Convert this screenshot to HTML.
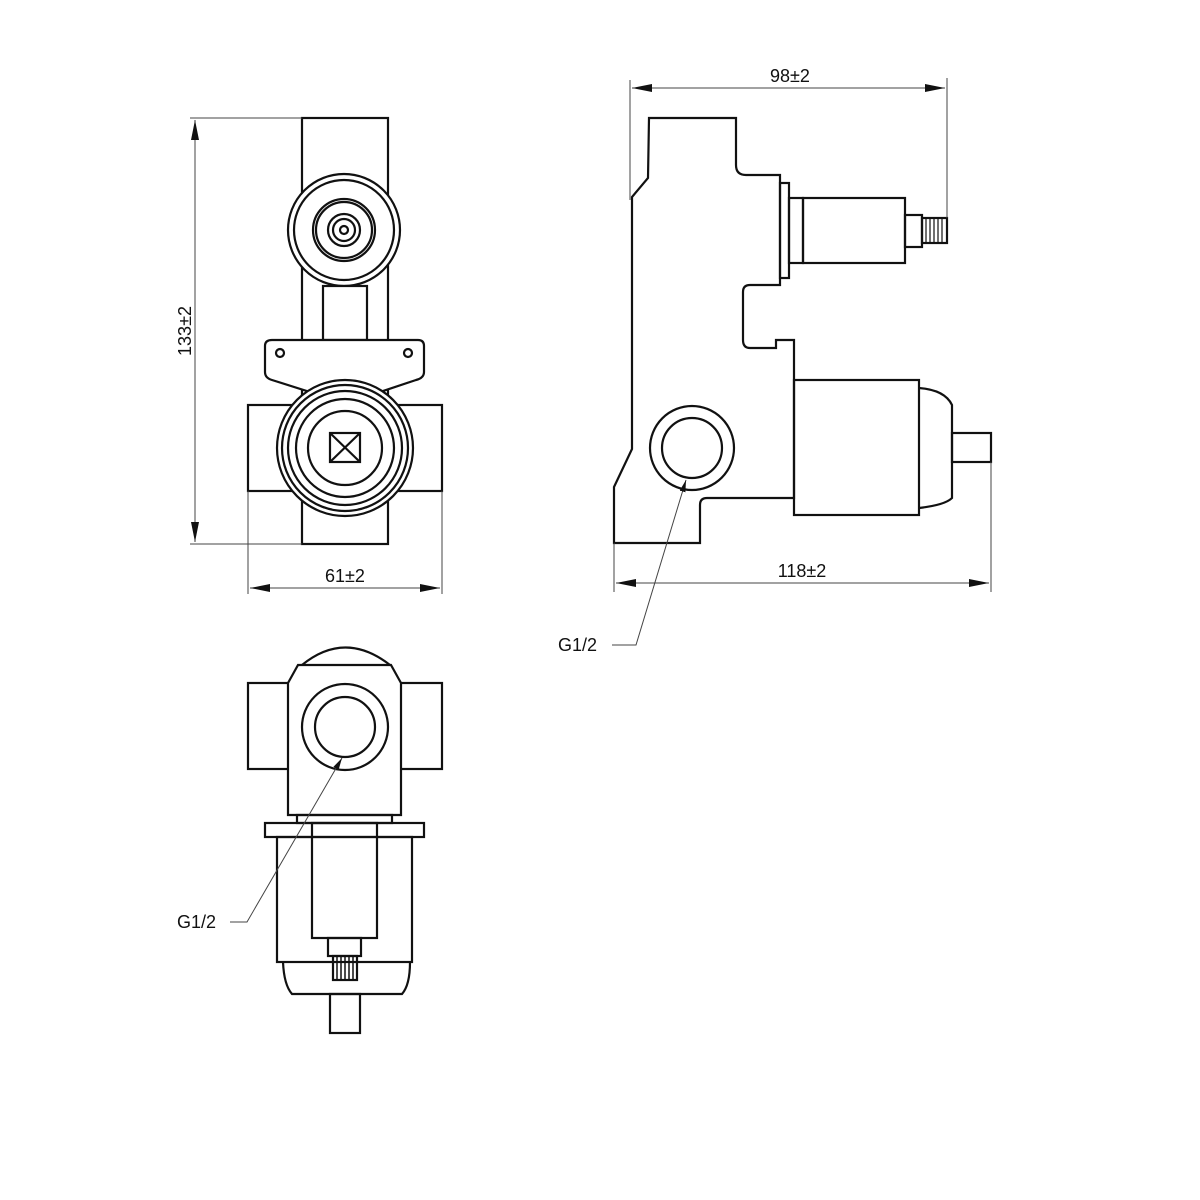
<!DOCTYPE html>
<html><head><style>
html,body{margin:0;padding:0;background:#fff;}
svg{display:block;}
text{font-family:"Liberation Sans",sans-serif;font-size:18px;fill:#111;}
</style></head><body>
<svg width="1200" height="1200" viewBox="0 0 1200 1200" xmlns="http://www.w3.org/2000/svg">
<defs>
<marker id="a" viewBox="0 0 20 8" refX="20" refY="4" markerWidth="20" markerHeight="8" orient="auto-start-reverse" markerUnits="userSpaceOnUse"><path d="M0,0L20,4L0,8z" fill="#111"/></marker>
<marker id="s" viewBox="0 0 12 6" refX="12" refY="3" markerWidth="12" markerHeight="6" orient="auto" markerUnits="userSpaceOnUse"><path d="M0,0L12,3L0,6z" fill="#111"/></marker>
</defs>
<g fill="none" stroke="#111" stroke-width="2.2">
<!-- FRONT VIEW -->
<rect x="302" y="118" width="86" height="426"/>
<rect x="248" y="405" width="194" height="86"/>
<circle cx="344" cy="230" r="56" fill="#fff"/>
<circle cx="344" cy="230" r="50"/>
<circle cx="344" cy="230" r="31"/>
<circle cx="344" cy="230" r="28"/>
<circle cx="344" cy="230" r="16"/>
<circle cx="344" cy="230" r="11"/>
<circle cx="344" cy="230" r="4"/>
<rect x="323" y="286" width="44" height="54" fill="#fff"/>
<path d="M272,340 L418,340 Q424,340 424,346 L424,372 Q424,378 416,380 L380,392 L310,392 L272,380 Q265,378 265,372 L265,346 Q265,340 272,340Z" fill="#fff"/>
<circle cx="280" cy="353" r="4"/>
<circle cx="408" cy="353" r="4"/>
<circle cx="345" cy="448" r="68" fill="#fff"/>
<circle cx="345" cy="448" r="63"/>
<circle cx="345" cy="448" r="57"/>
<circle cx="345" cy="448" r="49"/>
<circle cx="345" cy="448" r="37"/>
<rect x="330" y="433" width="30" height="29"/>
<path d="M330,433L360,462M360,433L330,462"/>
<!-- SIDE VIEW -->
<path d="M649,118 L736,118 L736,165 Q736,175 746,175 L780,175 L780,285 L750,285 Q743,285 743,292 L743,340 Q743,348 750,348 L776,348 L776,340 L794,340 L794,498 L707,498 Q700,498 700,505 L700,543 L614,543 L614,487 L632,449 L632,197 L648,178 Z"/>
<rect x="780" y="183" width="9" height="95"/>
<rect x="789" y="198" width="14" height="65"/>
<rect x="803" y="198" width="102" height="65"/>
<rect x="905" y="215" width="17" height="32"/>
<rect x="922" y="218" width="25" height="25"/>
<path d="M926,218V243M930,218V243M934,218V243M938,218V243M942,218V243" stroke-width="1.2"/>
<rect x="794" y="380" width="125" height="135"/>
<path d="M919,388 Q945,390 952,405 L952,498 Q945,505 919,508"/>
<rect x="952" y="433" width="39" height="29"/>
<circle cx="692" cy="448" r="42"/>
<circle cx="692" cy="448" r="30"/>
<!-- BOTTOM VIEW -->
<rect x="248" y="683" width="194" height="86"/>
<path d="M302,665 Q345,630 390,665" />
<path d="M288,815 L288,683 L298,665 L391,665 L401,683 L401,815 Z" fill="#fff"/>
<circle cx="345" cy="727" r="43"/>
<circle cx="345" cy="727" r="30"/>
<rect x="297" y="815" width="95" height="8"/>
<rect x="265" y="823" width="159" height="14"/>
<rect x="277" y="837" width="135" height="125"/>
<rect x="312" y="823" width="65" height="115"/>
<rect x="328" y="938" width="33" height="18"/>
<rect x="333" y="956" width="24" height="24"/>
<path d="M337,956V980M341,956V980M345,956V980M349,956V980M353,956V980" stroke-width="1.5"/>
<path d="M283,962 Q284,985 292,994 L402,994 Q410,985 410,962"/>
<rect x="330" y="994" width="30" height="39"/>
</g>
<g stroke="#444" stroke-width="1" fill="none">
<path d="M190,118H302M190,544H302"/>
<path d="M195,120V542" marker-start="url(#a)" marker-end="url(#a)"/>
<path d="M248,491V594M442,491V594"/>
<path d="M250,588H440" marker-start="url(#a)" marker-end="url(#a)"/>
<path d="M630,80V200M947,78V218"/>
<path d="M632,88H945" marker-start="url(#a)" marker-end="url(#a)"/>
<path d="M614,543V592M991,462V592"/>
<path d="M616,583H989" marker-start="url(#a)" marker-end="url(#a)"/>
<path d="M612,645H636L686,480" marker-end="url(#s)"/>
<path d="M230,922H247L342,758" marker-end="url(#s)"/>
</g>
<text x="185" y="331" text-anchor="middle" transform="rotate(-90 185 331)" dy="6">133±2</text>
<text x="345" y="582" text-anchor="middle">61±2</text>
<text x="790" y="82" text-anchor="middle">98±2</text>
<text x="802" y="577" text-anchor="middle">118±2</text>
<text x="558" y="651">G1/2</text>
<text x="177" y="928">G1/2</text>
</svg>
</body></html>
